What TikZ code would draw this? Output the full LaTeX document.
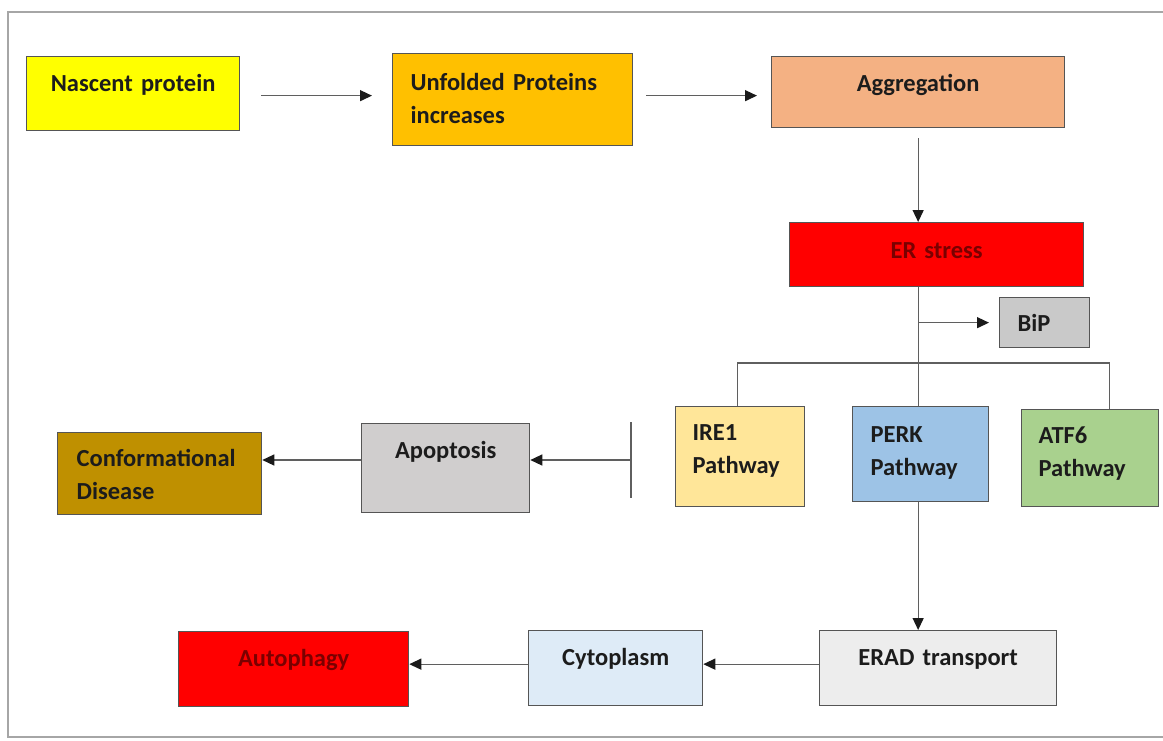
\documentclass[tikz,border=0pt]{standalone}
\usepackage{fontspec}
\setmainfont{Carlito}
\usetikzlibrary{arrows.meta}

\definecolor{cYellow}{HTML}{FFFF00}
\definecolor{cOrange}{HTML}{FFC000}
\definecolor{cSalmon}{HTML}{F4B183}
\definecolor{cRed}{HTML}{FF0000}
\definecolor{cGray}{HTML}{C9C9C9}
\definecolor{cCream}{HTML}{FFE699}
\definecolor{cBlue}{HTML}{9DC3E6}
\definecolor{cGreen}{HTML}{A9D18E}
\definecolor{cPale}{HTML}{D0CECE}
\definecolor{cGold}{HTML}{BF9000}
\definecolor{cLight}{HTML}{EDEDED}
\definecolor{cSky}{HTML}{DEEBF7}
\definecolor{boxline}{HTML}{555555}
\definecolor{linegray}{HTML}{5F5F5F}
\definecolor{tipdark}{HTML}{1A1A1A}
\definecolor{framegray}{HTML}{A6A6A6}
\definecolor{txt}{HTML}{1C1C1C}
\definecolor{dkred}{HTML}{7A0000}

\begin{document}
\begin{tikzpicture}[x=1pt, y=-1pt,
		blk/.style={draw=boxline, line width=1.3pt, anchor=north west, inner ysep=0pt,
			font=\fontsize{24.5}{33}\selectfont\bfseries, text=txt},
		mid/.style={inner xsep=0pt, align=center},
		lft/.style={inner xsep=18pt, align=left},
		conn/.style={draw=linegray, line width=1.3pt},
		flow/.style={conn, -{Triangle[length=12pt,width=11pt,color=tipdark]}}
	]
	\useasboundingbox (0,0) rectangle (1163,740);
	\draw[framegray, line width=1.2pt] (1163,12) -- (8,12) -- (8,737) -- (1163,737);

	%% top row
	\node[blk, mid, fill=cYellow, text width=213pt, text height=35pt, text depth=39pt] (nascent) at (26,56) {Nascent protein};
	\node[blk, lft, fill=cOrange, text width=204pt, text height=37pt, text depth=55pt] (unfolded) at (392,53) {Unfolded Proteins\\increases};
	\node[blk, mid, fill=cSalmon, text width=293pt, text height=35pt, text depth=36pt] (aggreg) at (771,56) {Aggregation};

	%% stress and chaperone
	\node[blk, mid, fill=cRed, text=dkred, text width=294pt, text height=36pt, text depth=28pt] (erstress) at (789,222) {ER stress};
	\node[blk, lft, fill=cGray, text width=54pt, text height=34pt, text depth=16pt] (bip) at (999,297) {BiP};

	%% pathways
	\node[blk, lft, inner xsep=17pt, fill=cCream, text width=95pt, text height=34pt, text depth=66pt] (ire1) at (675,406) {IRE1\\Pathway};
	\node[blk, lft, fill=cBlue, text width=100pt, text height=36pt, text depth=59pt] (perk) at (852,406) {PERK\\Pathway};
	\node[blk, lft, inner xsep=17pt, fill=cGreen, text width=103pt, text height=34pt, text depth=63pt] (atf6) at (1021,409) {ATF6\\Pathway};

	%% left branch
	\node[blk, mid, fill=cPale, text width=168pt, text height=35pt, text depth=54pt] (apopt) at (361,423) {Apoptosis};
	\node[blk, lft, inner xsep=19pt, fill=cGold, text width=166pt, text height=34pt, text depth=48pt] (conform) at (57,432) {Conformational\\Disease};

	%% bottom row
	\node[blk, mid, fill=cLight, text width=237pt, text height=35pt, text depth=40pt] (erad) at (819,630) {ERAD transport};
	\node[blk, mid, fill=cSky, text width=174pt, text height=35pt, text depth=40pt] (cyto) at (528,630) {Cytoplasm};
	\node[blk, mid, fill=cRed, text=dkred, text width=230pt, text height=35pt, text depth=40pt] (autoph) at (178,631) {Autophagy};

	\coordinate (fork) at (917,363);
	\coordinate (inhib) at (631,460);

	\draw[flow, shorten <=21pt, shorten >=20pt] ([yshift=-2pt]nascent.east) -- ([yshift=-2pt]nascent.east -| unfolded.west);
	\draw[flow, shorten <=13pt, shorten >=14pt] ([yshift=4pt]unfolded.east) -- ([yshift=4pt]unfolded.east -| aggreg.west);
	\draw[flow, shorten <=10pt] (aggreg.south) -- (aggreg.south |- erstress.north);
	\draw[conn] (erstress.south -| aggreg.south) -- (perk.north -| aggreg.south);
	\draw[flow, shorten >=10pt] (bip.west -| aggreg.south) -- (bip.west);
	\draw[conn] ([xshift=-3pt]ire1.north) |- (fork) -| ([xshift=19pt]atf6.north);

	%% inhibition bar
	\draw[conn] ([yshift=38pt]inhib) -- ([yshift=-38pt]inhib);
	\draw[flow] (inhib) -- (inhib -| apopt.east);
	\draw[flow] (inhib -| apopt.west) -- (inhib -| conform.east);

	\draw[flow] (perk.south -| aggreg.south) -- (erad.north -| aggreg.south);
	\draw[flow] ([yshift=4pt]erad.west) -- ([yshift=4pt]erad.west -| cyto.east);
	\draw[flow] ([yshift=4pt]cyto.west) -- ([yshift=4pt]cyto.west -| autoph.east);
\end{tikzpicture}
\end{document}
